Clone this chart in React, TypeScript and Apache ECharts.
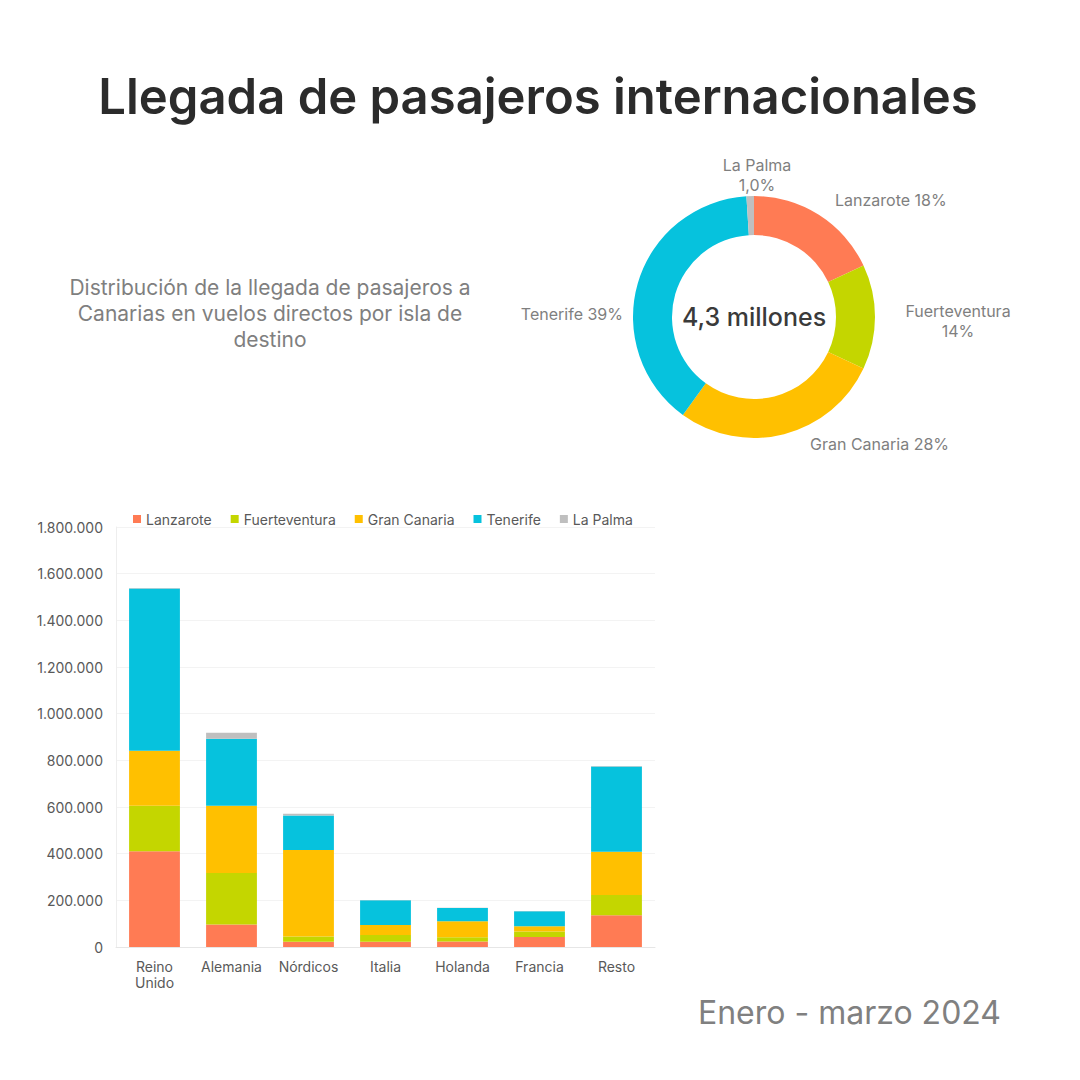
import React, { useEffect, useRef } from "react";
import * as echarts from "echarts";

const islands = ["Lanzarote", "Fuerteventura", "Gran Canaria", "Tenerife", "La Palma"];
const colors = ["#FF7B54", "#C4D600", "#FFC000", "#06C2DD", "#BFBFBF"];

// Donut: share of arrivals by destination island (%)
const pieValues = [18, 14, 28, 39, 1];
const pieLabels = ["Lanzarote 18%", "Fuerteventura\n14%", "Gran Canaria 28%", "Tenerife 39%", "La Palma\n1,0%"];
const centerText = "4,3 millones";

// Stacked bars: arrivals by market and island
const markets = ["Reino\nUnido", "Alemania", "Nórdicos", "Italia", "Holanda", "Francia", "Resto"];
const lanzarote = [410000, 96000, 23000, 23000, 24000, 43000, 136000];
const fuerteventura = [195000, 221000, 22000, 28000, 18000, 23000, 87000];
const granCanaria = [236000, 288000, 371000, 43000, 68000, 23000, 185000];
const tenerife = [695000, 288000, 148000, 106000, 57000, 64000, 366000];
const laPalma = [3000, 25000, 7000, 1000, 1000, 1000, 2000];
const barSeries = [lanzarote, fuerteventura, granCanaria, tenerife, laPalma];

const yMax = 1800000;
const yInterval = 200000;

const title = "Llegada de pasajeros internacionales";
const subtitle = "Distribución de la llegada de pasajeros a\nCanarias en vuelos directos por isla de\ndestino";
const period = "Enero - marzo 2024";

const FONT = "Inter, 'Open Sans', sans-serif";

// label layout for donut (layout, not data)
const pieLabelLayout = [
  { x: 835, y: 200, align: "left" },
  { x: 958, y: 321, align: "center" },
  { x: 810, y: 444, align: "left" },
  { x: 623, y: 314, align: "right" },
  { x: 757, y: 175, align: "center" },
];

function fmt(v: number): string {
  return String(Math.round(v)).replace(/\B(?=(\d{3})+(?!\d))/g, ".");
}

export default function App() {
  const ref = useRef<HTMLDivElement>(null);
  useEffect(() => {
    if (!ref.current) return;
    const chart = echarts.init(ref.current, null, { renderer: "svg" });
    chart.setOption({
      animation: false,
      backgroundColor: "#ffffff",
      textStyle: { fontFamily: FONT },
      legend: {
        data: islands,
        top: 507,
        left: 128,
        icon: "rect",
        itemWidth: 8,
        itemHeight: 8,
        itemGap: 19,
        textStyle: { fontSize: 14, color: "#595959", fontFamily: FONT },
      },
      grid: { left: 116, right: 425, top: 527, bottom: 133, containLabel: false },
      xAxis: {
        type: "category",
        data: markets,
        axisLine: { show: true, lineStyle: { color: "#e6e6e6" } },
        axisTick: { show: false },
        axisLabel: {
          interval: 0,
          fontSize: 14,
          color: "#595959",
          margin: 11,
          lineHeight: 16,
          align: "center",
          fontFamily: FONT,
        },
      },
      yAxis: {
        type: "value",
        min: 0,
        max: yMax,
        interval: yInterval,
        axisLine: { show: true, lineStyle: { color: "#eeeeee" } },
        axisTick: { show: false },
        splitLine: { lineStyle: { color: "#f3f3f3" } },
        axisLabel: { fontSize: 14, color: "#595959", margin: 13, formatter: (v: number) => fmt(v), fontFamily: FONT },
      },
      series: [
        ...islands.map((name, i) => ({
          type: "bar",
          name,
          stack: "total",
          data: barSeries[i],
          barWidth: "66%",
          itemStyle: { color: colors[i] },
        })),
        {
          type: "pie",
          name: "Distribución",
          center: [754, 317],
          radius: [82, 121],
          startAngle: 90,
          clockwise: true,
          avoidLabelOverlap: false,
          label: {
            show: true,
            position: "outside",
            fontSize: 16,
            lineHeight: 20,
            color: "#7f7f7f",
            fontFamily: FONT,
            formatter: (p: any) => pieLabels[p.dataIndex],
          },
          labelLine: { show: false },
          labelLayout: (p: any) => {
            const l = pieLabelLayout[p.dataIndex];
            return { x: l.x, y: l.y, align: l.align, verticalAlign: "middle" };
          },
          emphasis: { disabled: true },
          data: islands.map((name, i) => ({ name, value: pieValues[i], itemStyle: { color: colors[i] } })),
        },
      ],
      graphic: [
        {
          type: "text",
          x: 538,
          y: 96,
          style: {
            text: title,
            fontSize: 49,
            fontWeight: 600,
            fill: "#2b2b2b",
            align: "center",
            verticalAlign: "middle",
            fontFamily: FONT,
          },
        },
        {
          type: "text",
          x: 270,
          y: 313,
          style: {
            text: subtitle,
            fontSize: 21,
            lineHeight: 26,
            fill: "#7f7f7f",
            align: "center",
            verticalAlign: "middle",
            fontFamily: FONT,
          },
        },
        {
          type: "text",
          x: 754,
          y: 317,
          style: {
            text: centerText,
            fontSize: 25,
            fontWeight: 500,
            fill: "#3a3a3a",
            align: "center",
            verticalAlign: "middle",
            fontFamily: FONT,
          },
        },
        {
          type: "text",
          x: 1001,
          y: 1012,
          style: {
            text: period,
            fontSize: 32,
            fill: "#808080",
            align: "right",
            verticalAlign: "middle",
            fontFamily: FONT,
          },
        },
      ],
    });
    return () => chart.dispose();
  }, []);
  return <div ref={ref} style={{ position: "absolute", left: 0, top: 0, width: 1080, height: 1080 }} />;
}
